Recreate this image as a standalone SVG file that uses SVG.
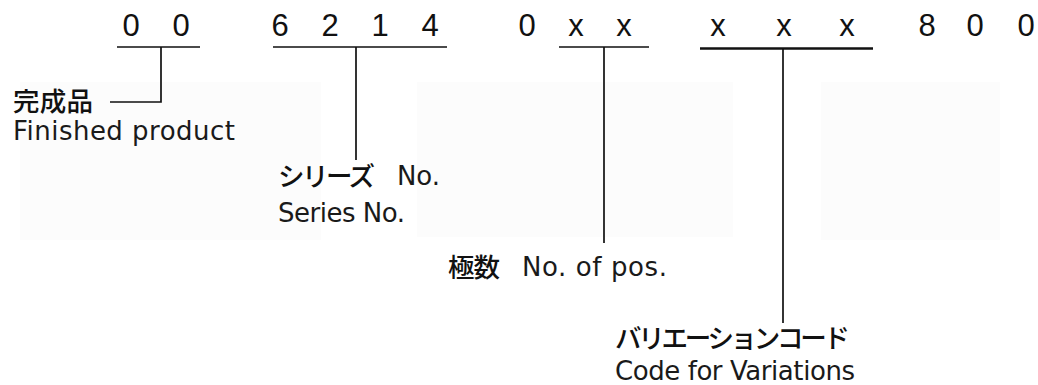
<svg xmlns="http://www.w3.org/2000/svg" width="1038" height="385" viewBox="0 0 1038 385">
<style>
.num{font-family:"Liberation Sans","DejaVu Sans",sans-serif;font-size:31px;fill:#111;text-anchor:middle}
.en{font-family:"DejaVu Sans","Liberation Sans",sans-serif;font-size:26px;fill:#1a1a1a}
.jp{font-family:"Noto Sans CJK JP","Noto Sans",sans-serif;font-size:26.5px;font-weight:500;fill:#111}
.ln{stroke:#111;stroke-width:1.7;fill:none}
.bg{fill:#fcfcfc}
</style>
<rect width="1038" height="385" fill="#ffffff"/>
<g id="background">
<rect class="bg" x="20" y="82" width="301" height="158"/>
<rect class="bg" x="417" y="82" width="316" height="155"/>
<rect class="bg" x="821" y="82" width="179" height="158"/>
</g>
<g id="code">
<text class="num" x="131" y="36">0</text>
<text class="num" x="181" y="36">0</text>
<text class="num" x="280" y="36">6</text>
<text class="num" x="330" y="36">2</text>
<text class="num" x="380" y="36">1</text>
<text class="num" x="430" y="36">4</text>
<text class="num" x="527" y="36">0</text>
<text class="num" x="576" y="36">x</text>
<text class="num" x="624" y="36">x</text>
<text class="num" x="718" y="36">x</text>
<text class="num" x="784" y="36">x</text>
<text class="num" x="847" y="36">x</text>
<text class="num" x="927" y="36">8</text>
<text class="num" x="975" y="36">0</text>
<text class="num" x="1026" y="36">0</text>
</g>
<g id="connectors">
<path class="ln" d="M117 47H200M161 47V102H110"/>
<path class="ln" d="M273 47H447M356 47V160"/>
<path class="ln" d="M559 47H649M604 47V243"/>
<path class="ln" d="M700 48.5H873" style="stroke-width:2.4"/>
<path class="ln" d="M783 48.5V323"/>
</g>
<g id="finished">
<text class="jp" x="13" y="111" textLength="80">完成品</text>
<text class="en" x="13" y="140" textLength="222">Finished product</text>
</g>
<g id="series">
<text class="jp" x="278" y="186" textLength="97">シリーズ</text>
<text class="en" x="397" y="185" textLength="43">No.</text>
<text class="en" x="278" y="222" textLength="127">Series No.</text>
</g>
<g id="positions">
<text class="jp" x="448" y="277" textLength="52">極数</text>
<text class="en" x="522" y="276" textLength="145">No. of pos.</text>
</g>
<g id="variations">
<text class="jp" x="615" y="348" textLength="235">バリエーションコード</text>
<text class="en" x="615" y="380" textLength="240">Code for Variations</text>
</g>
</svg>
